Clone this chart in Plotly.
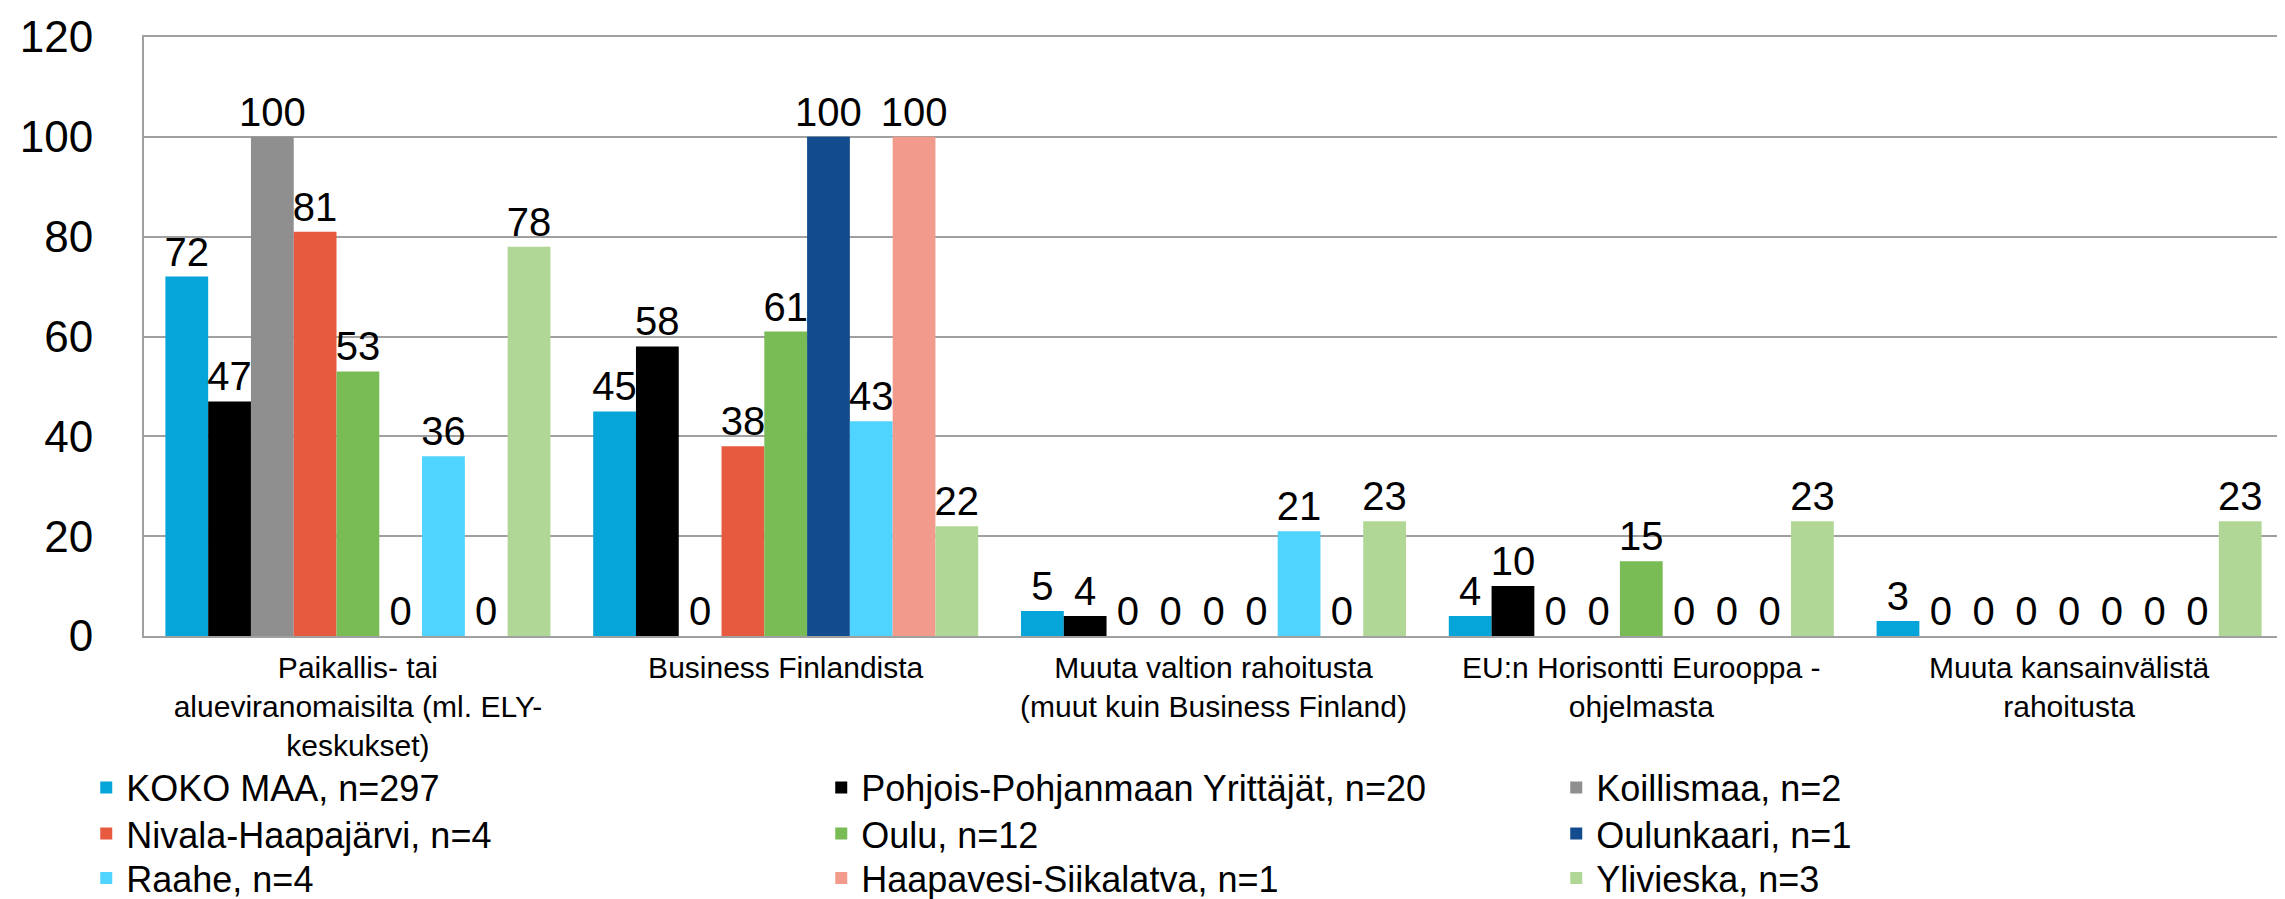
import plotly.graph_objects as go

# categories (x axis)
categories = [
    "Paikallis- tai<br>alueviranomaisilta (ml. ELY-<br>keskukset)",
    "Business Finlandista",
    "Muuta valtion rahoitusta<br>(muut kuin Business Finland)",
    "EU:n Horisontti Eurooppa -<br>ohjelmasta",
    "Muuta kansainvälistä<br>rahoitusta",
]

# series names
series_names = [
    "KOKO MAA, n=297",
    "Pohjois-Pohjanmaan Yrittäjät, n=20",
    "Koillismaa, n=2",
    "Nivala-Haapajärvi, n=4",
    "Oulu, n=12",
    "Oulunkaari, n=1",
    "Raahe, n=4",
    "Haapavesi-Siikalatva, n=1",
    "Ylivieska, n=3",
]

# values per series
koko_maa = [72, 45, 5, 4, 3]
pp_yrittajat = [47, 58, 4, 10, 0]
koillismaa = [100, 0, 0, 0, 0]
nivala = [81, 38, 0, 0, 0]
oulu = [53, 61, 0, 15, 0]
oulunkaari = [0, 100, 0, 0, 0]
raahe = [36, 43, 21, 0, 0]
haapavesi = [0, 100, 0, 0, 0]
ylivieska = [78, 22, 23, 23, 23]

series_values = [koko_maa, pp_yrittajat, koillismaa, nivala, oulu,
                 oulunkaari, raahe, haapavesi, ylivieska]

colors = ["#05a4d9", "#000000", "#8f8f8f", "#e85a40", "#79bb55",
          "#124b8e", "#4fd3ff", "#f29b8c", "#b0d795"]

font_family = "Arial, Liberation Sans, sans-serif"

# legend is three rows, one plotly legend per row
legend_ids = ["legend", "legend2", "legend3"]

fig = go.Figure()

# add one bar trace per series
for i, (name, vals, col) in enumerate(zip(series_names, series_values, colors)):
    fig.add_trace(go.Bar(
        name=name, x=categories, y=vals,
        marker=dict(color=col, line=dict(width=0)),
        text=vals, textposition="outside", constraintext="none",
        textfont=dict(size=40, color="black", family=font_family),
        cliponaxis=False,
        legend=legend_ids[i // 3],
    ))

row_style = dict(
    orientation="h", x=-0.027, xanchor="left", yanchor="middle",
    font=dict(size=36), entrywidth=690, entrywidthmode="pixels",
    traceorder="normal", bgcolor="rgba(0,0,0,0)",
)

fig.update_layout(
    barmode="group", bargap=0.1, bargroupgap=0,
    width=2285, height=899,
    margin=dict(l=136, r=10, t=29, b=271, autoexpand=False),
    paper_bgcolor="white", plot_bgcolor="white",
    font=dict(family=font_family, color="black"),
    legend=dict(row_style, y=-0.253),
    legend2=dict(row_style, y=-0.330),
    legend3=dict(row_style, y=-0.404),
)

# x axis: category labels
fig.update_xaxes(
    showline=True, linecolor="#a0a0a0", linewidth=2, mirror=True,
    showgrid=False, ticks="", ticklabelstandoff=4,
    tickfont=dict(size=30), tickangle=0,
)

# y axis: 0..120 with grid
fig.update_yaxes(
    range=[0, 120], dtick=20, tick0=0,
    showline=True, linecolor="#a0a0a0", linewidth=2, mirror=True,
    showgrid=True, gridcolor="#a0a0a0", gridwidth=1.5,
    zeroline=False, ticks="", ticklabelstandoff=40,
    tickfont=dict(size=44),
)

fig.write_html("out.html")
